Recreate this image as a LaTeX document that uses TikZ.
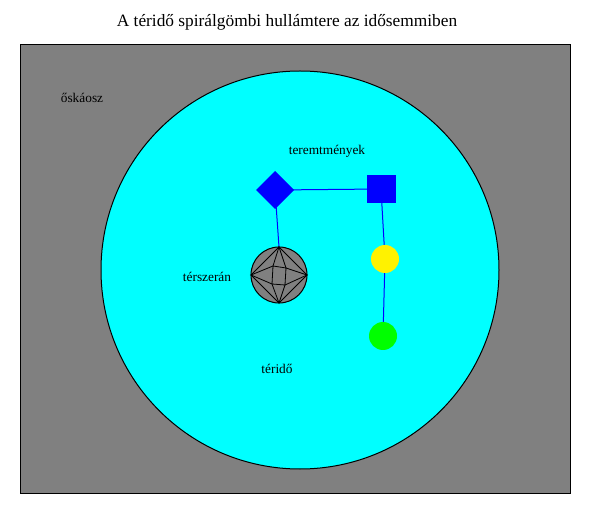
\documentclass[tikz,border=0pt]{standalone}
\usepackage{fontspec}
\setmainfont{Liberation Serif}
\tikzset{every picture/.style={line width=0.75pt}}
\begin{document}
\begin{tikzpicture}[x=0.75pt,y=0.75pt,yscale=-1,xscale=1]
\useasboundingbox (0,0) rectangle (600,520);
% Title
\node (title) at (287,22) {\fontsize{13}{15}\selectfont A téridő spirálgömbi hullámtere az idősemmiben};
%Shape: Rectangle
\draw [fill={rgb, 255:red, 128; green, 128; blue, 128 }] (20,45) rectangle (570,493);
%Shape: Circle
\draw [fill={rgb, 255:red, 0; green, 255; blue, 255 }] (300,270) circle [radius=199];
% Text Nodes
\node (oskaosz) at (82,98) {őskáosz};
\node (teremt) at (327,151) {teremtmények};
\node (terszeran) at (207,277) {térszerán};
\node (terido) at (277,369) {téridő};
% Connectors
\draw [color=blue] (275,190) -- (381,189) -- (385,259) -- (383,336);
\draw [color=blue] (275,190) -- (279,247);
%Shape: Diamond
\draw [draw=none, fill=blue] (275,171) -- (294,190) -- (275,209) -- (256,190) -- cycle;
%Shape: Square
\draw [draw=none, fill=blue] (367,175) rectangle (396,203);
%Shape: Circles
\draw [draw=none, fill=yellow] (385,259) circle [radius=14];
\draw [draw=none, fill={rgb, 255:red, 0; green, 255; blue, 0 }] (383,336) circle [radius=14];
%Shape: Sphere
\draw [fill={rgb, 255:red, 128; green, 128; blue, 128 }] (279,275) circle [radius=28];
\draw [line width=0.6pt] (279,247) -- (273,266) -- (251,275) -- (272,284) -- (279,303) -- (285,285) -- (307,275) -- (286,268) -- cycle;
\draw [line width=0.6pt] (273,266) -- (286,268) -- (285,285) -- (272,284) -- cycle;
\draw [line width=0.6pt] (251,275) -- (279,247) -- (307,275) -- (279,303) -- cycle;
\end{tikzpicture}
\end{document}
